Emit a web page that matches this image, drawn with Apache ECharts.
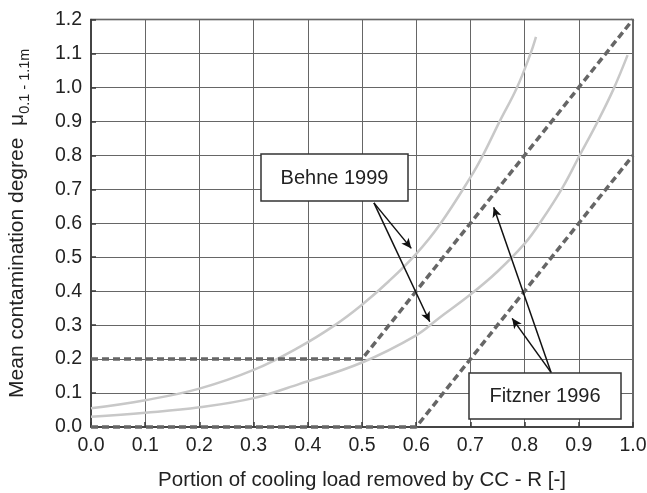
<!DOCTYPE html>
<html>
<head>
<meta charset="utf-8">
<script src="https://cdn.jsdelivr.net/npm/echarts@6/dist/echarts.min.js"></script>
<style>html,body{margin:0;padding:0;background:#fff}#c{width:647px;height:493px}</style>
</head>
<body>
<div id="c"></div>
<script>
// Tick values
const xTicks = [0.0, 0.1, 0.2, 0.3, 0.4, 0.5, 0.6, 0.7, 0.8, 0.9, 1.0];
const yTicks = [0.0, 0.1, 0.2, 0.3, 0.4, 0.5, 0.6, 0.7, 0.8, 0.9, 1.0, 1.1, 1.2];

// Behne 1999 (dashed) threshold line
const behneX = [0.0, 0.5, 1.0];
const behneY = [0.2, 0.2, 1.2];
// Fitzner 1996 (dashed) threshold line
const fitznerX = [0.0, 0.6, 1.0];
const fitznerY = [0.0, 0.0, 0.8];

// Light grey curves
const upperX = [0.0, 0.1, 0.2, 0.3, 0.385, 0.45, 0.5, 0.55, 0.6, 0.643, 0.7, 0.723, 0.754, 0.786, 0.811, 0.821];
const upperY = [0.055, 0.079, 0.113, 0.168, 0.236, 0.30, 0.36, 0.43, 0.51, 0.595, 0.735, 0.80, 0.90, 1.00, 1.10, 1.149];
const lowerX = [0.0, 0.1, 0.2, 0.3, 0.385, 0.5, 0.6, 0.643, 0.7, 0.75, 0.8, 0.83, 0.87, 0.9, 0.935, 0.964, 0.99];
const lowerY = [0.03, 0.042, 0.058, 0.085, 0.127, 0.19, 0.27, 0.322, 0.39, 0.458, 0.54, 0.605, 0.705, 0.795, 0.90, 0.995, 1.095];

// Annotation arrows (start -> end) in data units
const behneArrows = [[[0.522, 0.660], [0.591, 0.526]], [[0.522, 0.660], [0.625, 0.310]]];
const fitznerArrows = [[[0.849, 0.160], [0.743, 0.647]], [[0.849, 0.160], [0.777, 0.320]]];

const zip = (xs, ys) => xs.map((x, i) => [x, ys[i]]);
const arrowData = arr => arr.map(a => [{coord: a[0]}, {coord: a[1]}]);

const chart = echarts.init(document.getElementById('c'), null, {renderer: 'canvas'});
const font = 'Liberation Sans, Arial, sans-serif';
chart.setOption({
  animation: false,
  backgroundColor: '#fff',
  grid: {left: 91, right: 14, top: 19.5, bottom: 66, show: true, borderColor: '#3a3a3a', borderWidth: 1.5,
    containLabel: false, outerBoundsMode: 'none'},
  xAxis: {
    type: 'value', min: xTicks[0], max: xTicks[xTicks.length - 1], interval: 0.1,
    name: 'Portion of cooling load removed by CC - R [-]', nameLocation: 'middle', nameGap: 43,
    nameTextStyle: {fontFamily: font, fontSize: 20.5, color: '#222'},
    axisLine: {show: true, lineStyle: {color: '#3a3a3a', width: 1.5}},
    axisTick: {show: true, inside: true, length: 5, lineStyle: {color: '#3a3a3a', width: 1.5}},
    axisLabel: {fontFamily: font, fontSize: 19.5, color: '#222', margin: 9, formatter: v => v.toFixed(1)},
    splitLine: {show: true, lineStyle: {color: '#666', width: 1}}
  },
  yAxis: {
    type: 'value', min: yTicks[0], max: yTicks[yTicks.length - 1], interval: 0.1,
    name: '{n|Mean contamination degree  μ}{s|0.1 - 1.1m}', nameLocation: 'middle', nameGap: 59, nameRotate: 90,
    nameTextStyle: {fontFamily: font, fontSize: 21, color: '#222',
      rich: {n: {fontFamily: font, fontSize: 21, color: '#222'}, s: {fontFamily: font, fontSize: 14.5, color: '#222', padding: [15, 0, 0, 0]}}},
    axisLine: {show: true, lineStyle: {color: '#3a3a3a', width: 1.5}},
    axisTick: {show: true, inside: true, length: 5, lineStyle: {color: '#3a3a3a', width: 1.5}},
    axisLabel: {fontFamily: font, fontSize: 19.5, color: '#222', margin: 9, formatter: v => v.toFixed(1)},
    splitLine: {show: true, lineStyle: {color: '#666', width: 1}}
  },
  series: [
    {type: 'line', name: 'upper', data: zip(upperX, upperY), smooth: 0.4, showSymbol: false,
      lineStyle: {color: '#c8c8c8', width: 2.5}, z: 2},
    {type: 'line', name: 'lower', data: zip(lowerX, lowerY), smooth: 0.4, showSymbol: false,
      lineStyle: {color: '#c8c8c8', width: 2.5}, z: 2},
    {type: 'line', name: 'Behne 1999', data: zip(behneX, behneY), showSymbol: false, clip: false,
      lineStyle: {color: '#666', width: 3.5, type: [7, 4], cap: 'butt'}, z: 3,
      markLine: {silent: true, symbol: ['none', 'arrow'], symbolSize: [7, 10], label: {show: false},
        lineStyle: {color: '#111', width: 1.5, type: 'solid'}, data: arrowData(behneArrows)}},
    {type: 'line', name: 'Fitzner 1996', data: zip(fitznerX, fitznerY), showSymbol: false, clip: false,
      lineStyle: {color: '#666', width: 3.5, type: [7, 4], cap: 'butt'}, z: 3,
      markLine: {silent: true, symbol: ['none', 'arrow'], symbolSize: [7, 10], label: {show: false},
        lineStyle: {color: '#111', width: 1.5, type: 'solid'}, data: arrowData(fitznerArrows)}}
  ],
  graphic: [
    {type: 'rect', z: 100, shape: {x: 261, y: 154, width: 147, height: 47}, style: {fill: '#fff', stroke: '#333', lineWidth: 1.5}},
    {type: 'text', z: 101, x: 334.5, y: 178, style: {text: 'Behne 1999', fontFamily: font, fontSize: 20, fill: '#222', align: 'center', verticalAlign: 'middle'}},
    {type: 'rect', z: 100, shape: {x: 469, y: 373, width: 152, height: 46}, style: {fill: '#fff', stroke: '#333', lineWidth: 1.5}},
    {type: 'text', z: 101, x: 545, y: 396.5, style: {text: 'Fitzner 1996', fontFamily: font, fontSize: 20, fill: '#222', align: 'center', verticalAlign: 'middle'}}
  ]
});
</script>
</body>
</html>
